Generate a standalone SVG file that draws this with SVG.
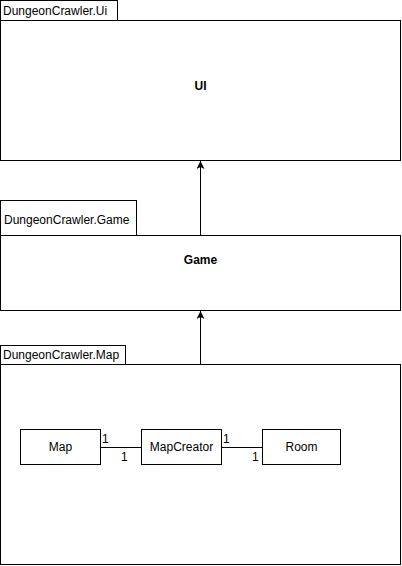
<svg xmlns="http://www.w3.org/2000/svg" width="402" height="566" viewBox="0 0 402 566">
<style>
.box{fill:#fff;stroke:#000;stroke-width:1}
.t{font-family:"Liberation Sans",Arial,sans-serif;font-size:12px;fill:#000}
.c{text-anchor:middle}
.b{font-weight:bold}
.ln{stroke:#000;stroke-width:1;fill:none}
</style>
<defs>
<marker id="arr" viewBox="0 0 10 10" refX="10" refY="5" markerWidth="8" markerHeight="8" markerUnits="userSpaceOnUse" orient="auto">
<path d="M0,0 L10,5 L0,10 L2.5,5 Z" fill="#000"/>
</marker>
</defs>
<g id="pkg-ui">
<rect class="box" x="0.5" y="0.5" width="117" height="20"/>
<rect class="box" x="0.5" y="20.5" width="400" height="140"/>
<text class="t" x="3" y="14.5">DungeonCrawler.Ui</text>
<text class="t c b" x="200.5" y="90">UI</text>
</g>
<g id="pkg-game">
<rect class="box" x="0.5" y="200.5" width="136" height="35"/>
<rect class="box" x="0.5" y="235.5" width="400" height="75"/>
<text class="t" x="4" y="223.5">DungeonCrawler.Game</text>
<text class="t c b" x="200.5" y="264">Game</text>
</g>
<g id="pkg-map">
<rect class="box" x="0.5" y="345.5" width="125" height="19"/>
<rect class="box" x="0.5" y="364.5" width="400" height="200"/>
<text class="t" x="3" y="358.5">DungeonCrawler.Map</text>
</g>
<g id="cls-map">
<rect class="box" x="20.5" y="429.5" width="80" height="35"/>
<text class="t c" x="60.5" y="451">Map</text>
</g>
<g id="cls-mapcreator">
<rect class="box" x="141.5" y="429.5" width="80" height="35"/>
<text class="t c" x="181.5" y="451">MapCreator</text>
</g>
<g id="cls-room">
<rect class="box" x="262.5" y="429.5" width="78" height="35"/>
<text class="t c" x="301.5" y="451">Room</text>
</g>
<g id="connectors">
<line class="ln" x1="200.5" y1="235.5" x2="200.5" y2="161" marker-end="url(#arr)"/>
<line class="ln" x1="200.5" y1="364.5" x2="200.5" y2="311" marker-end="url(#arr)"/>
<line class="ln" x1="100.5" y1="447.5" x2="141.5" y2="447.5"/>
<line class="ln" x1="221.5" y1="447.5" x2="262.5" y2="447.5"/>
<text class="t" x="102" y="443">1</text>
<text class="t" x="121" y="461">1</text>
<text class="t" x="223" y="443">1</text>
<text class="t" x="252" y="461">1</text>
</g>
</svg>
